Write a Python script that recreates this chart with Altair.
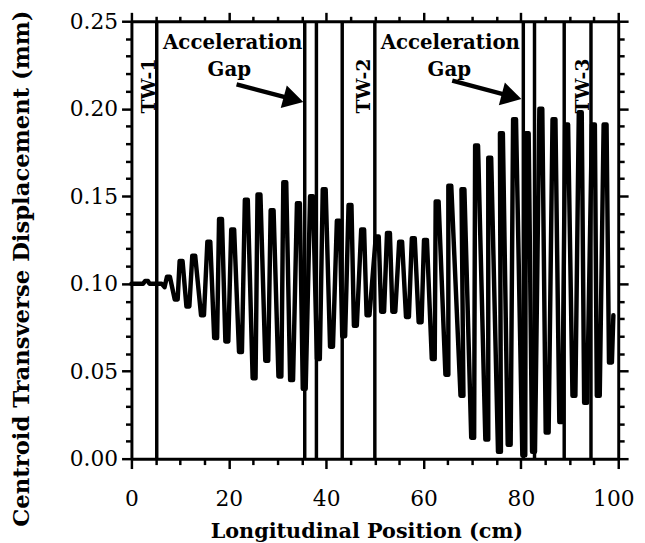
import altair as alt
import pandas as pd

# ---- data ----
# centroid path: successive extrema (x in cm, y in mm)
sig_x = [0.0, 2.4, 2.8, 3.4, 3.7, 6.2, 6.8, 7.6, 9.2, 10.2, 11.6, 12.8, 14.6, 15.9, 17.3, 18.3,
         19.6, 20.8, 22.4, 23.6, 25.2, 26.2, 27.8, 28.9, 30.5, 31.5, 32.9, 34.3, 35.5, 37.0,
         38.4, 39.6, 41.1, 42.5, 43.6, 44.9, 46.0, 47.5, 48.6, 50.5, 51.6, 52.8, 53.9, 55.3,
         56.7, 57.9, 59.3, 60.4, 62.0, 62.8, 64.8, 65.4, 67.9, 68.1, 70.1, 70.9, 73.0, 73.6,
         75.6, 76.0, 77.6, 78.7, 80.6, 81.3, 82.6, 84.1, 85.4, 86.8, 88.2, 89.4, 90.9, 92.2,
         93.3, 94.9, 95.9, 97.3, 98.4, 99.0]
sig_y = [0.100, 0.100, 0.1015, 0.1015, 0.100, 0.100, 0.098, 0.104, 0.091, 0.113, 0.087, 0.116,
         0.082, 0.124, 0.069, 0.137, 0.067, 0.131, 0.061, 0.148, 0.046, 0.151, 0.056, 0.142,
         0.047, 0.158, 0.045, 0.146, 0.040, 0.150, 0.057, 0.154, 0.064, 0.136, 0.070, 0.145,
         0.076, 0.131, 0.082, 0.127, 0.084, 0.129, 0.084, 0.124, 0.081, 0.126, 0.078, 0.125,
         0.057, 0.147, 0.048, 0.156, 0.036, 0.154, 0.012, 0.179, 0.011, 0.172, 0.004, 0.186,
         0.008, 0.194, 0.002, 0.186, 0.004, 0.200, 0.015, 0.194, 0.021, 0.191, 0.036, 0.198,
         0.032, 0.191, 0.036, 0.191, 0.055, 0.082]
# each turning point is drawn as a short flat cap of this half-width (cm)
cap_half = 0.3

# vertical markers (traveling-wave sections and gaps)
vline_x = [5.2, 35.6, 38.0, 43.3, 50.0, 80.5, 82.8, 88.9, 94.4]

# annotations
tw_text = ["TW-1", "TW-2", "TW-3"]
tw_x = [3.6, 47.8, 92.8]
tw_y = [0.213, 0.213, 0.213]

acc_text = ["Acceleration", "Gap", "Acceleration", "Gap"]
acc_x = [20.8, 20.1, 65.5, 65.3]
acc_y = [0.2375, 0.222, 0.2375, 0.222]

arrow_id = ["a1", "a2"]
arrow_tail_x = [21.6, 65.9]
arrow_tail_y = [0.2139, 0.2161]
arrow_head_x = [33.3, 78.1]
arrow_head_y = [0.2053, 0.2070]

# axis ticks
x_ticks = [0, 5, 10, 15, 20, 25, 30, 35, 40, 45, 50, 55, 60, 65, 70, 75, 80, 85, 90, 95, 100]
y_ticks = [0.00, 0.01, 0.02, 0.03, 0.04, 0.05, 0.06, 0.07, 0.08, 0.09, 0.10, 0.11, 0.12, 0.13,
           0.14, 0.15, 0.16, 0.17, 0.18, 0.19, 0.20, 0.21, 0.22, 0.23, 0.24, 0.25]

# ---- tables ----
px, py = [], []
for k, (xv, yv) in enumerate(zip(sig_x, sig_y)):
    if 0 < k < len(sig_x) - 1 and xv > 7:
        px += [xv - cap_half, xv + cap_half]
        py += [yv, yv]
    else:
        px.append(xv)
        py.append(yv)
sig_df = pd.DataFrame({"x": px, "y": py, "i": list(range(len(px)))})
vl_df = pd.DataFrame({"x": vline_x})
tw_df = pd.DataFrame({"x": tw_x, "y": tw_y, "t": tw_text})
acc_df = pd.DataFrame({"x": acc_x, "y": acc_y, "t": acc_text})
arr_df = pd.DataFrame({
    "x": arrow_tail_x + arrow_head_x,
    "y": arrow_tail_y + arrow_head_y,
    "id": arrow_id + arrow_id,
    "o": [0, 0, 1, 1],
})
head_df = pd.DataFrame({"x": arrow_head_x, "y": arrow_head_y})

SERIF = "DejaVu Serif"
xs = alt.Scale(domain=[0, 100], nice=False, zero=False)
ys = alt.Scale(domain=[0, 0.25], nice=False, zero=False)

x_major = "datum.value % 20 === 0"
y_major = "round(datum.value * 100) % 5 === 0"

common = dict(domainColor="black", domainWidth=3, tickColor="black", tickWidth=2.5,
              grid=False, labelOverlap=False)

x_bottom = alt.Axis(
    values=x_ticks, orient="bottom",
    labelExpr=f"{x_major} ? datum.label : ''",
    tickSize={"condition": {"test": x_major, "value": 10}, "value": 6},
    labelOffset={"condition": {"test": "datum.value === 100", "value": -5}, "value": 0},
    labelFont=SERIF, labelFontSize=22, labelColor="black", labelPadding=20, labelFlush=False,
    title="Longitudinal Position (cm)", titleFont=SERIF, titleFontSize=21,
    titleFontWeight="bold", titleColor="black", titleX=238, titleY=74,
    titleBaseline="middle", titleAlign="center",
    **common,
)
y_left = alt.Axis(
    values=y_ticks, orient="left", format=".2f",
    labelExpr=f"{y_major} ? format(datum.value, '.2f') : ''",
    tickSize={"condition": {"test": y_major, "value": 10}, "value": 6},
    labelFont=SERIF, labelFontSize=22, labelColor="black", labelPadding=4,
    title="Centroid Transverse Displacement (mm)", titleFont=SERIF, titleFontSize=23,
    titleFontWeight="bold", titleColor="black", titleX=-111, titleY=250,
    titleAngle=270, titleBaseline="middle", titleAlign="center",
    **common,
)
x_top = alt.Axis(
    values=x_ticks, orient="top", labels=False, title=None,
    tickSize={"condition": {"test": x_major, "value": 9}, "value": 5},
    **common,
)
y_right = alt.Axis(
    values=y_ticks, orient="right", labels=False, title=None,
    tickSize={"condition": {"test": y_major, "value": 10}, "value": 6},
    **common,
)

signal = alt.Chart(sig_df).mark_line(
    color="black", strokeWidth=4.5, strokeJoin="round", strokeCap="round"
).encode(
    x=alt.X("x:Q", scale=xs, axis=x_bottom),
    y=alt.Y("y:Q", scale=ys, axis=y_left),
    order="i:Q",
)

frame = alt.Chart(acc_df).mark_text(
    font=SERIF, fontSize=20, fontWeight="bold", color="black"
).encode(
    x=alt.X("x:Q", scale=xs, axis=x_top),
    y=alt.Y("y:Q", scale=ys, axis=y_right),
    text="t:N",
)

vlines = alt.Chart(vl_df).mark_rule(color="black", strokeWidth=3.5).encode(
    x=alt.X("x:Q", scale=xs, axis=None),
)

tw = alt.Chart(tw_df).mark_text(
    font=SERIF, fontSize=19, fontWeight="bold", color="black", angle=270
).encode(
    x=alt.X("x:Q", scale=xs, axis=None),
    y=alt.Y("y:Q", scale=ys, axis=None),
    text="t:N",
)

shafts = alt.Chart(arr_df).mark_line(color="black", strokeWidth=4.5).encode(
    x=alt.X("x:Q", scale=xs, axis=None),
    y=alt.Y("y:Q", scale=ys, axis=None),
    detail="id:N",
    order="o:Q",
)

heads = alt.Chart(head_df).mark_point(
    shape="triangle-right", size=560, filled=True, color="black", opacity=1, angle=15
).encode(
    x=alt.X("x:Q", scale=xs, axis=None),
    y=alt.Y("y:Q", scale=ys, axis=None),
)

chart = alt.layer(signal, frame, vlines, tw, shafts, heads).resolve_axis(
    x="independent", y="independent"
).properties(
    width=493, height=443,
    autosize=alt.AutoSizeParams(type="none"),
    padding={"left": 125, "top": 10, "right": 19, "bottom": 82},
).configure_view(stroke=None).configure(background="white")

chart.save("out.html", embed_options={"renderer": "svg", "actions": False})
